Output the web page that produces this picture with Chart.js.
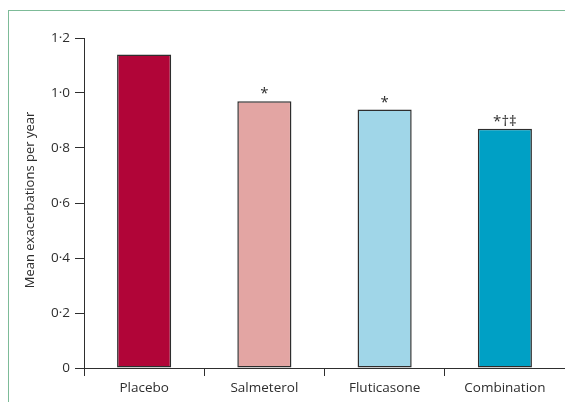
<!DOCTYPE html>
<html>
<head>
<meta charset="utf-8">
<script src="https://cdn.jsdelivr.net/npm/chart.js@4/dist/chart.umd.min.js"></script>
<style>
  html, body { margin: 0; padding: 0; background: #fff; }
  #wrap { position: relative; width: 565px; height: 402px; overflow: hidden; }
  #frame { position: absolute; left: 8px; top: 10px; width: 600px; height: 420px;
           border-left: 1.5px solid #7dbb98; border-top: 1.5px solid #7dbb98; }
  canvas { position: absolute; left: 0; top: 0; }
</style>
</head>
<body>
<div id="wrap">
  <div id="frame"></div>
  <canvas id="c" width="565" height="402"></canvas>
</div>
<script>
// Treatment groups and mean exacerbation rate per year
const categories = ['Placebo', 'Salmeterol', 'Fluticasone', 'Combination'];
const exacerbations = [1.14, 0.97, 0.94, 0.87];
const significance = ['', '*', '*', '*†‡'];
const barColors = ['#b10538', '#e3a5a3', '#a0d6e8', '#00a0c5'];
const yTickValues = [0, 0.2, 0.4, 0.6, 0.8, 1.0, 1.2];
const yTickLabels = ['0', '0·2', '0·4', '0·6', '0·8', '1·0', '1·2'];
const yTitle = 'Mean exacerbations per year';

const FONT = "'Open Sans', 'Noto Sans', sans-serif";
const INK = '#2e2e2e';

// Marks above each bar and the rotated y-axis title
const extras = {
  id: 'extras',
  afterDatasetsDraw(chart) {
    const ctx = chart.ctx;
    const meta = chart.getDatasetMeta(0);
    ctx.save();
    ctx.fillStyle = INK;
    ctx.font = '15px ' + FONT;
    ctx.textAlign = 'center';
    ctx.textBaseline = 'alphabetic';
    meta.data.forEach((bar, i) => {
      if (significance[i]) ctx.fillText(significance[i], bar.x, bar.y - 3);
    });
    ctx.font = '13px ' + FONT;
    ctx.textBaseline = 'middle';
    ctx.translate(30, 200);
    ctx.rotate(-Math.PI / 2);
    ctx.fillText(yTitle, 0, 0);
    ctx.restore();
  }
};

new Chart(document.getElementById('c'), {
  type: 'bar',
  data: {
    labels: categories,
    datasets: [{
      data: exacerbations,
      backgroundColor: barColors,
      borderColor: INK,
      borderWidth: 1.5,
      borderSkipped: false,
      barPercentage: 0.45,
      categoryPercentage: 1
    }]
  },
  options: {
    responsive: false,
    devicePixelRatio: 1,
    animation: false,
    layout: { padding: { top: 38, right: 0, left: 0, bottom: 0 } },
    plugins: { legend: { display: false }, tooltip: { enabled: false } },
    scales: {
      x: {
        offset: true,
        grid: { offset: true, drawOnChartArea: false, drawTicks: true, tickLength: 8, color: INK, lineWidth: 1 },
        border: { display: true, color: INK, width: 1 },
        ticks: { color: INK, font: { family: FONT, size: 13.5 }, padding: 4, maxRotation: 0 },
        afterFit(s) { s.height = 34; }
      },
      y: {
        min: 0,
        max: 1.2,
        afterBuildTicks(s) { s.ticks = yTickValues.map(v => ({ value: v })); },
        grid: { drawOnChartArea: false, drawTicks: true, tickLength: 9, color: INK, lineWidth: 1 },
        border: { display: true, color: INK, width: 1 },
        ticks: {
          color: INK,
          font: { family: FONT, size: 13.5 },
          padding: 5,
          callback(v) { const i = yTickValues.findIndex(t => Math.abs(t - v) < 1e-6); return i >= 0 ? yTickLabels[i] : ''; }
        },
        afterFit(s) { s.width = 84; }
      }
    }
  },
  plugins: [extras]
});
</script>
</body>
</html>
